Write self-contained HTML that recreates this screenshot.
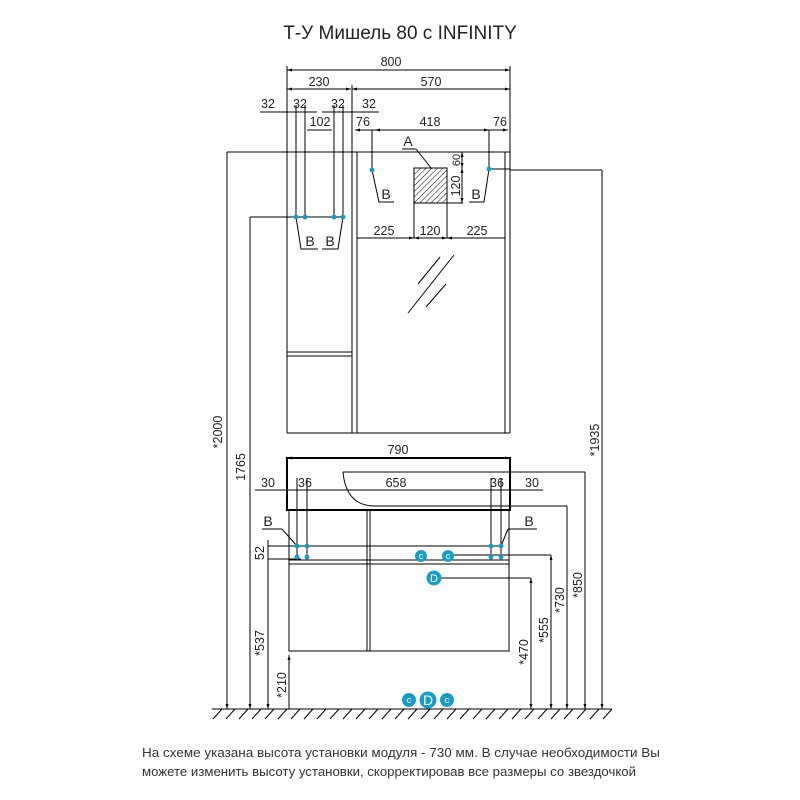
<!DOCTYPE html>
<html><head><meta charset="utf-8"><style>
body{margin:0;background:#fff;}
svg{display:block;font-family:"Liberation Sans","DejaVu Sans",sans-serif;}
</style></head><body>
<svg width="800" height="800" viewBox="0 0 800 800" xmlns="http://www.w3.org/2000/svg">
<defs>
<pattern id="h" width="4" height="4" patternUnits="userSpaceOnUse" patternTransform="rotate(45)"><line x1="0" y1="0" x2="0" y2="4" stroke="#000" stroke-width="1"/></pattern>
<marker id="a" viewBox="0 0 10 10" refX="10" refY="5" markerWidth="5" markerHeight="5" orient="auto-start-reverse"><path d="M0,2 L10,5 L0,8z" fill="#000"/></marker>
</defs>
<text x="400" y="39" font-size="19" text-anchor="middle" fill="#222">Т-У Мишель 80 с INFINITY</text>
<g stroke="#000" stroke-width="1" fill="none">
<!-- top dims -->
<line x1="287" y1="70" x2="510" y2="70" marker-start="url(#a)" marker-end="url(#a)"/>
<line x1="287" y1="89" x2="351" y2="89" marker-start="url(#a)" marker-end="url(#a)"/>
<line x1="352" y1="89" x2="510" y2="89" marker-start="url(#a)" marker-end="url(#a)"/>
<line x1="287" y1="66" x2="287" y2="152"/>
<line x1="510" y1="66" x2="510" y2="152"/>
<line x1="352" y1="85" x2="352" y2="152"/>
<line x1="260" y1="112" x2="317" y2="112"/>
<line x1="322" y1="112" x2="379" y2="112"/>
<line x1="307" y1="130" x2="332" y2="130"/>
<line x1="355" y1="130" x2="375" y2="130" marker-start="url(#a)"/>
<line x1="375" y1="130" x2="489" y2="130" marker-start="url(#a)" marker-end="url(#a)"/>
<line x1="489" y1="130" x2="508" y2="130" marker-end="url(#a)"/>
<!-- B verticals left -->
<line x1="296" y1="105" x2="296" y2="217"/><line x1="305" y1="105" x2="305" y2="217"/>
<line x1="334" y1="105" x2="334" y2="217"/><line x1="343" y1="105" x2="343" y2="217"/>
<line x1="250" y1="217" x2="343" y2="217"/>
<polyline points="296,217 301,249 318,249"/>
<polyline points="343,217 338,249 322,249"/>
<!-- top line -->
<line x1="227" y1="152" x2="510" y2="152"/>
<!-- left cabinet -->
<line x1="287" y1="152" x2="287" y2="433"/>
<line x1="287" y1="352" x2="352" y2="352"/>
<line x1="287" y1="356" x2="352" y2="356"/>
<line x1="352" y1="152" x2="352" y2="433"/>
<line x1="357" y1="152" x2="357" y2="433"/>
<line x1="505" y1="152" x2="505" y2="433"/>
<line x1="510" y1="152" x2="510" y2="433"/>
<line x1="287" y1="433" x2="510" y2="433"/>
<!-- mirror B -->
<polyline points="372,130 372,170 379,202 394,202"/>
<polyline points="489,130 489,169 484,202 469,202"/>
<line x1="489" y1="169" x2="510" y2="169"/>
<line x1="510" y1="170" x2="602" y2="170"/>
<!-- A -->
<rect x="414" y="168" width="33" height="35" fill="url(#h)"/>
<line x1="402" y1="149" x2="416" y2="149"/>
<line x1="416" y1="149" x2="431" y2="168"/>
<line x1="414" y1="203" x2="414" y2="238"/>
<line x1="447" y1="203" x2="447" y2="238"/>
<line x1="447" y1="203" x2="463" y2="203"/>
<line x1="462" y1="152" x2="462" y2="168" marker-start="url(#a)" marker-end="url(#a)"/>
<line x1="462" y1="168" x2="462" y2="203" marker-start="url(#a)" marker-end="url(#a)"/>
<line x1="357" y1="238" x2="414" y2="238" marker-end="url(#a)"/>
<line x1="414" y1="238" x2="447" y2="238" marker-start="url(#a)" marker-end="url(#a)"/>
<line x1="447" y1="238" x2="505" y2="238" marker-start="url(#a)"/>
<!-- glare -->
<line x1="418" y1="284" x2="440" y2="257"/>
<line x1="408" y1="313" x2="454" y2="255"/>
<line x1="426" y1="307" x2="446" y2="284"/>
<!-- 790 -->
<line x1="287" y1="458" x2="510" y2="458" marker-start="url(#a)" marker-end="url(#a)"/>
<rect x="287" y="458" width="223" height="52" stroke-width="2"/>
<path d="M343,472 Q346,506 375,506"/>
<line x1="343" y1="472" x2="585" y2="472"/>
<line x1="375" y1="506" x2="567" y2="506"/>
<line x1="255" y1="490" x2="543" y2="490"/>
<!-- lower cabinet -->
<rect x="289" y="510" width="220" height="141"/>
<line x1="289" y1="560" x2="509" y2="560"/>
<line x1="289" y1="564" x2="509" y2="564"/>
<line x1="367" y1="510" x2="367" y2="651"/>
<line x1="370" y1="510" x2="370" y2="651"/>
<line x1="297" y1="478" x2="297" y2="557"/><line x1="307" y1="478" x2="307" y2="557"/>
<line x1="491" y1="478" x2="491" y2="557"/><line x1="501" y1="478" x2="501" y2="557"/>
<line x1="268" y1="546" x2="501" y2="546"/>
<line x1="268" y1="559" x2="301" y2="559"/>
<line x1="448" y1="555" x2="551" y2="555"/>
<line x1="434" y1="578" x2="531" y2="578"/>
<line x1="262" y1="529" x2="282" y2="529"/><line x1="282" y1="529" x2="297" y2="546"/>
<line x1="508" y1="529" x2="537" y2="529"/><line x1="508" y1="529" x2="501" y2="546"/>
<!-- verticals -->
<line x1="227" y1="152" x2="227" y2="709" marker-end="url(#a)"/>
<line x1="250" y1="217" x2="250" y2="709" marker-end="url(#a)"/>
<line x1="268" y1="540" x2="268" y2="559" />
<line x1="268" y1="559" x2="268" y2="709" marker-end="url(#a)"/>
<line x1="289" y1="655" x2="289" y2="709" marker-start="url(#a)"/>
<line x1="531" y1="578" x2="531" y2="709" marker-start="url(#a)" marker-end="url(#a)"/>
<line x1="551" y1="555" x2="551" y2="709" marker-start="url(#a)" marker-end="url(#a)"/>
<line x1="567" y1="506" x2="567" y2="709" marker-end="url(#a)"/>
<line x1="585" y1="472" x2="585" y2="709" marker-end="url(#a)"/>
<line x1="602" y1="170" x2="602" y2="709" marker-end="url(#a)"/>
<!-- ground -->
<line x1="212" y1="709" x2="612" y2="709"/>
<path d="M222,709l-9,10M235,709l-9,10M248,709l-9,10M261,709l-9,10M274,709l-9,10M287,709l-9,10M300,709l-9,10M313,709l-9,10M326,709l-9,10M339,709l-9,10M352,709l-9,10M365,709l-9,10M378,709l-9,10M391,709l-9,10M404,709l-9,10M417,709l-9,10M430,709l-9,10M443,709l-9,10M456,709l-9,10M469,709l-9,10M482,709l-9,10M495,709l-9,10M508,709l-9,10M521,709l-9,10M534,709l-9,10M547,709l-9,10M560,709l-9,10M573,709l-9,10M586,709l-9,10M599,709l-9,10M612,709l-9,10"/>
</g>
<g fill="#1a9cc9">
<circle cx="296" cy="217" r="2.5"/><circle cx="305" cy="217" r="2.5"/><circle cx="334" cy="217" r="2.5"/><circle cx="343" cy="217" r="2.5"/>
<circle cx="372" cy="170" r="2.5"/><circle cx="489" cy="169" r="2.5"/>
<circle cx="297" cy="546" r="2.5"/><circle cx="307" cy="546" r="2.5"/><circle cx="297" cy="557" r="2.5"/><circle cx="307" cy="557" r="2.5"/>
<circle cx="491" cy="546" r="2.5"/><circle cx="501" cy="546" r="2.5"/><circle cx="491" cy="557" r="2.5"/><circle cx="501" cy="557" r="2.5"/>
<circle cx="421" cy="556" r="6"/><circle cx="448" cy="556" r="6"/>
<circle cx="434" cy="578" r="7.5"/>
<circle cx="409" cy="700" r="7"/><circle cx="428" cy="700" r="8.5"/><circle cx="447" cy="700" r="7"/>
</g>
<g fill="#fff" font-size="9" text-anchor="middle">
<text x="421" y="559">c</text><text x="448" y="559">c</text><text x="434" y="582" font-size="11">D</text>
<text x="409" y="703">c</text><text x="428" y="705" font-size="14">D</text><text x="447" y="703">c</text>
</g>
<g font-size="12.5" fill="#222" text-anchor="middle">
<text x="391" y="66">800</text>
<text x="319" y="86">230</text><text x="431" y="86">570</text>
<text x="268" y="108">32</text><text x="300" y="108">32</text><text x="338" y="108">32</text><text x="369" y="108">32</text>
<text x="320" y="126">102</text><text x="363" y="126">76</text><text x="430" y="126">418</text><text x="500" y="126">76</text>
<text x="408" y="146" font-size="14">A</text>
<text x="386" y="199" font-size="14">B</text><text x="476" y="199" font-size="14">B</text>
<text x="310" y="246" font-size="14">B</text><text x="330" y="246" font-size="14">B</text>
<text x="384" y="235">225</text><text x="430" y="235">120</text><text x="477" y="235">225</text>
<text x="398" y="454">790</text>
<text x="268" y="487">30</text><text x="305" y="487">36</text><text x="396" y="487">658</text><text x="497" y="487">36</text><text x="532" y="487">30</text>
<text x="268" y="526" font-size="14">B</text><text x="529" y="526" font-size="14">B</text>
<text transform="translate(460,160) rotate(-90)" font-size="11">60</text>
<text transform="translate(460,186) rotate(-90)">120</text>
<text transform="translate(222,432) rotate(-90)">*2000</text>
<text transform="translate(245,467) rotate(-90)">1765</text>
<text transform="translate(264,553) rotate(-90)">52</text>
<text transform="translate(264,643) rotate(-90)">*537</text>
<text transform="translate(286,685) rotate(-90)">*210</text>
<text transform="translate(528,652) rotate(-90)">*470</text>
<text transform="translate(548,630) rotate(-90)">*555</text>
<text transform="translate(564,600) rotate(-90)">*730</text>
<text transform="translate(582,585) rotate(-90)">*850</text>
<text transform="translate(599,440) rotate(-90)">*1935</text>
</g>
<g font-size="13" fill="#333">
<text x="142" y="757" textLength="518" lengthAdjust="spacingAndGlyphs">На схеме указана высота установки модуля - 730 мм. В случае необходимости Вы</text>
<text x="142" y="776" textLength="494" lengthAdjust="spacingAndGlyphs">можете изменить высоту установки, скорректировав все размеры со звездочкой</text>
</g>
</svg>
</body></html>
